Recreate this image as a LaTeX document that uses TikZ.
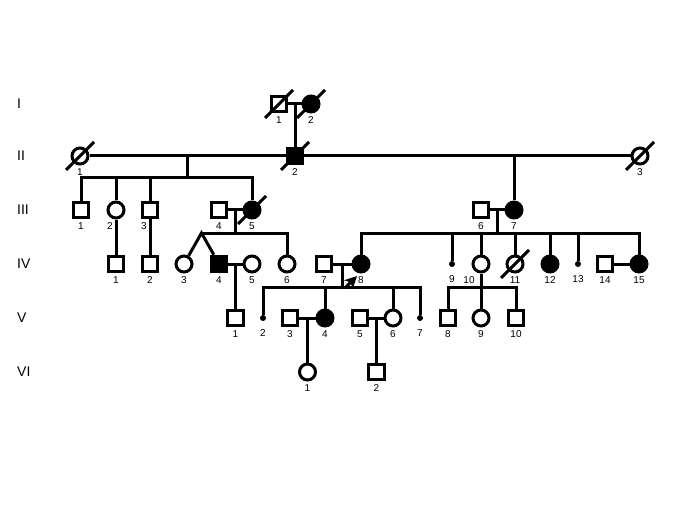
\documentclass[tikz,border=0pt]{standalone}
\usepackage{fontspec}
\setmainfont{Liberation Sans}
\usetikzlibrary{calc,arrows.meta}

\tikzset{
  line/.style={line width=3pt},
  male/.style={draw, line width=3pt, rectangle, minimum size=15.5pt, inner sep=0pt, fill=white},
  female/.style={draw, line width=3pt, circle, minimum size=16pt, inner sep=0pt, fill=white},
  affected/.style={fill=black},
  nokid/.style={circle, fill=black, minimum size=6pt, inner sep=0pt},
  dead/.style={line width=3pt},
  proband/.style={line width=3pt, -{Stealth[length=12pt,width=12pt,inset=3pt]}},
  gen/.style={anchor=west, font=\fontsize{14}{16}\selectfont, inner sep=0pt},
  every label/.style={font=\fontsize{10}{12}\selectfont, inner sep=0pt},
  label distance=2.8pt
}

\begin{document}
\begin{tikzpicture}[x=1pt, y=-1pt]
\useasboundingbox (0,0) rectangle (685,513);

% generation numbers
\node[gen] (gI)   at (17,104) {I};
\node[gen] (gII)  at (17,156) {II};
\node[gen] (gIII) at (17,210) {III};
\node[gen] (gIV)  at (17,264) {IV};
\node[gen] (gV)   at (17,318) {V};
\node[gen] (gVI)  at (17,372) {VI};

% generation I
\node[male, label=below:1] (g1n1) at (279,104) {};
\node[female, affected, label=below:2] (g1n2) at (311,104) {};

% generation II
\node[female, label=below:1] (g2n1) at (80,156) {};
\node[male, affected, label=below:2] (g2n2) at (295,156) {};
\node[female, label=below:3] (g2n3) at (640,156) {};

% generation III
\node[male, label=below:1] (g3n1) at (81,210) {};
\node[female, label={[xshift=-6pt]below:2}] (g3n2) at (116,210) {};
\node[male, label={[xshift=-6pt]below:3}] (g3n3) at (150,210) {};
\node[male, label=below:4] (g3n4) at (219,210) {};
\node[female, affected, label=below:5] (g3n5) at (252,210) {};
\node[male, label=below:6] (g3n6) at (481,210) {};
\node[female, affected, label=below:7] (g3n7) at (514,210) {};

% generation IV
\node[male, label=below:1] (g4n1) at (116,264) {};
\node[male, label=below:2] (g4n2) at (150,264) {};
\node[female, label=below:3] (g4n3) at (184,264) {};
\node[male, affected, label=below:4] (g4n4) at (219,264) {};
\node[female, label=below:5] (g4n5) at (252,264) {};
\node[female, label=below:6] (g4n6) at (287,264) {};
\node[male, label=below:7] (g4n7) at (324,264) {};
\node[female, affected, label=below:8] (g4n8) at (361,264) {};
\node[nokid, label={[yshift=-5.5pt]below:9}] (g4n9) at (452,264) {};
\node[female, label={[xshift=-12pt]below:10}] (g4n10) at (481,264) {};
\node[female, label=below:11] (g4n11) at (515,264) {};
\node[female, affected, label=below:12] (g4n12) at (550,264) {};
\node[nokid, label={[yshift=-5.5pt]below:13}] (g4n13) at (578,264) {};
\node[male, label=below:14] (g4n14) at (605,264) {};
\node[female, affected, label=below:15] (g4n15) at (639,264) {};

% generation V
\node[male, label=below:1] (g5n1) at (235.5,318) {};
\node[nokid, label={[yshift=-5.5pt]below:2}] (g5n2) at (263,318) {};
\node[male, label=below:3] (g5n3) at (290,318) {};
\node[female, affected, label=below:4] (g5n4) at (325,318) {};
\node[male, label=below:5] (g5n5) at (360,318) {};
\node[female, label=below:6] (g5n6) at (393,318) {};
\node[nokid, label={[yshift=-5.5pt]below:7}] (g5n7) at (420,318) {};
\node[male, label=below:8] (g5n8) at (448,318) {};
\node[female, label=below:9] (g5n9) at (481,318) {};
\node[male, label=below:10] (g5n10) at (516,318) {};

% generation VI
\node[female, label=below:1] (g6n1) at (307.5,372) {};
\node[male, label=below:2] (g6n2) at (376.5,372) {};

% matings and lines of descent
\draw[line] (g1n1) -- (g1n2);
\coordinate (m1) at ($(g1n1)!.5!(g1n2)$);
\draw[line] (m1) -- (g2n2);

\draw[line] (g2n1) -- (g2n2) -- (g2n3);
\coordinate (m2) at ($(g2n1)!.5!(g2n2)$);
\coordinate (sib2) at ($(m2)+(0,22)$);
\draw[line] (m2) -- (sib2);
\draw[line] (g3n1) -- (g3n1 |- sib2) -- (g3n5 |- sib2) -- (g3n5);
\foreach \c in {g3n2,g3n3} \draw[line] (\c |- sib2) -- (\c);
\draw[line] (g3n7 |- g2n3) -- (g3n7);

\draw[line] (g3n2) -- (g4n1);
\draw[line] (g3n3) -- (g4n2);

\draw[line] (g3n4) -- (g3n5);
\coordinate (m3) at ($(g3n4)!.5!(g3n5)$);
\coordinate (sib3) at ($(m3)+(0,23)$);
\coordinate (twin) at ($(g4n3)!.5!(g4n4)$);
\draw[line] (m3) -- (sib3);
\draw[line] (g4n6) -- (g4n6 |- sib3) -- (twin |- sib3);
\draw[line] (g4n3) -- (twin |- sib3) -- (g4n4);

\draw[line] (g3n6) -- (g3n7);
\coordinate (m4) at ($(g3n6)!.5!(g3n7)$);
\coordinate (sib4) at ($(m4)+(0,23)$);
\draw[line] (m4) -- (sib4);
\draw[line] (g4n8) -- (g4n8 |- sib4) -- (g4n15 |- sib4) -- (g4n15);
\foreach \c in {g4n9,g4n10,g4n11,g4n12,g4n13} \draw[line] (\c |- sib4) -- (\c);

\draw[line] (g4n4) -- (g4n5);
\coordinate (m5) at ($(g4n4)!.5!(g4n5)$);
\draw[line] (m5) -- (g5n1);

\draw[line] (g4n7) -- (g4n8);
\coordinate (m6) at ($(g4n7)!.5!(g4n8)$);
\coordinate (sib6) at ($(m6)+(0,23)$);
\draw[line] (m6) -- (sib6);
\draw[line] (g5n2) -- (g5n2 |- sib6) -- (g5n7 |- sib6) -- (g5n7);
\foreach \c in {g5n4,g5n6} \draw[line] (\c |- sib6) -- (\c);

\draw[line] (g4n14) -- (g4n15);

\coordinate (sib7) at ($(g4n10)+(0,23)$);
\draw[line] (g4n10) -- (sib7);
\draw[line] (g5n8) -- (g5n8 |- sib7) -- (g5n10 |- sib7) -- (g5n10);
\draw[line] (sib7) -- (g5n9);

\draw[line] (g5n3) -- (g5n4);
\coordinate (m7) at ($(g5n3)!.5!(g5n4)$);
\draw[line] (m7) -- (g6n1);

\draw[line] (g5n5) -- (g5n6);
\coordinate (m8) at ($(g5n5)!.5!(g5n6)$);
\draw[line] (m8) -- (g6n2);

% deceased
\foreach \c in {g1n1,g1n2,g2n1,g2n2,g2n3,g3n5,g4n11}
  \draw[dead] (\c.center) ++(-14,14) -- ++(28,-28);

% proband
\coordinate (pb) at ($(g4n8)+(-16,24)$);
\draw[proband] (pb) -- ($(g4n8)+(-4,12)$);

\end{tikzpicture}
\end{document}
